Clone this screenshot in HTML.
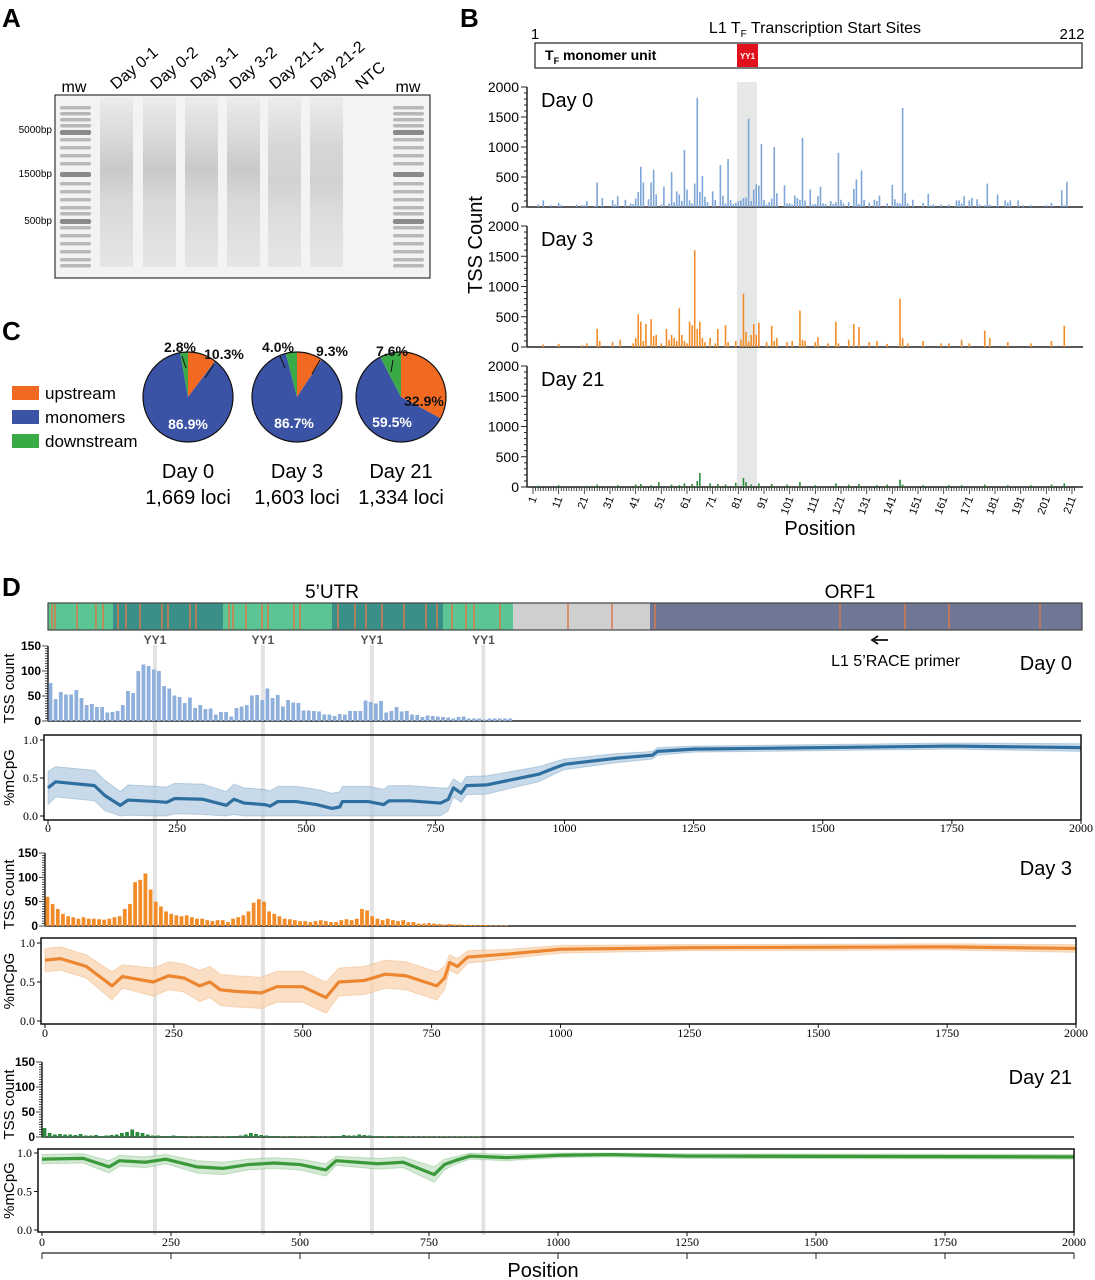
<!DOCTYPE html>
<html><head><meta charset="utf-8">
<style>
html,body{margin:0;padding:0;background:#fff;}
svg{display:block;font-family:"Liberation Sans",Arial,sans-serif;}
.serif{font-family:"Liberation Serif",serif;}
</style></head>
<body>
<svg id="fig" width="1095" height="1280" viewBox="0 0 1095 1280" xmlns="http://www.w3.org/2000/svg">
<defs>
<linearGradient id="smear" x1="0" y1="0" x2="0" y2="1">
<stop offset="0" stop-color="#ececec"/><stop offset="0.2" stop-color="#dcdcdc"/><stop offset="0.42" stop-color="#c9c9c9"/><stop offset="0.6" stop-color="#d8d8d8"/><stop offset="1" stop-color="#e6e6e6"/>
</linearGradient>
<linearGradient id="smear2" x1="0" y1="0" x2="0" y2="1">
<stop offset="0" stop-color="#ececec"/><stop offset="0.3" stop-color="#d6d6d6"/><stop offset="0.5" stop-color="#d2d2d2"/><stop offset="0.7" stop-color="#dddddd"/><stop offset="1" stop-color="#e6e6e6"/>
</linearGradient>
</defs>
<g id="panelA"></g>
<g id="panelB"></g>
<g id="panelC"></g>
<g id="panelD"></g>
</svg>
<script>
// ---------- Panel B data ----------
const bPositions = [1,11,21,31,41,51,61,71,81,91,101,111,121,131,141,151,161,171,181,191,201,211];
const day0Pos = [3,5,8,11,12,18,20,21,22,25,26,28,32,33,34,37,39,40,41,42,43,44,46,47,48,49,51,52,54,55,56,57,58,59,60,61,62,63,64,65,66,67,68,69,71,72,74,75,76,77,78,79,80,81,82,83,84,85,86,87,88,89,90,91,92,93,94,95,96,99,100,101,102,103,104,105,106,107,109,110,111,112,113,114,115,117,118,119,120,121,122,124,126,127,128,129,130,132,134,135,136,139,141,142,143,144,145,146,147,149,153,155,156,157,160,163,166,167,168,169,171,172,174,175,177,178,179,182,185,186,187,190,192,195,201,203,207,208,209];
const day0Val = [40,110,30,70,30,40,30,30,100,20,410,150,120,40,180,120,60,50,140,250,670,410,130,410,620,210,40,340,60,580,80,260,210,100,950,290,110,60,390,1820,250,520,170,80,260,120,700,190,60,800,120,50,70,100,110,150,160,1470,100,290,380,360,1050,120,40,80,140,1000,230,360,60,60,40,190,150,120,1150,110,290,40,50,180,340,60,50,100,50,80,900,120,60,80,300,460,50,610,120,70,120,100,190,60,370,130,70,60,1650,230,60,120,70,220,30,40,40,40,110,110,60,180,110,150,130,40,30,390,40,210,110,70,110,110,30,30,30,70,280,30,420,60];
const day3Pos = [5,11,20,22,26,27,32,35,40,41,42,43,44,45,47,48,49,51,53,54,55,56,57,58,59,60,61,62,63,64,65,66,67,68,70,72,73,76,77,80,82,83,84,85,86,87,88,89,92,94,95,96,100,102,105,106,107,111,112,116,119,120,124,126,128,132,135,139,144,145,147,153,160,163,168,171,177,179,186,195,203,208];
const day3Val = [40,50,30,60,300,100,80,120,60,150,540,420,100,380,460,180,200,60,300,120,200,150,100,640,200,100,60,420,360,1600,300,420,150,80,150,60,300,360,80,100,120,880,250,90,200,380,200,400,80,350,100,150,80,100,600,120,100,80,160,60,420,60,120,380,330,80,100,50,800,150,60,100,60,60,120,60,270,150,80,60,100,350];
const day21Pos = [3,11,22,26,34,41,43,47,50,55,58,60,63,65,66,70,73,76,80,83,84,86,89,94,100,105,111,119,124,128,135,139,144,145,153,163,168,177,186,195,203,208];
const day21Val = [20,30,20,40,30,40,50,30,80,40,30,60,50,100,230,60,50,40,70,150,80,40,60,50,40,80,30,60,40,50,30,40,120,40,30,30,30,40,30,30,40,60];

// ---------- Panel C data ----------
const pieLabels = ["Day 0","Day 3","Day 21"];
const pieLoci = ["1,669 loci","1,603 loci","1,334 loci"];
const pieUpstream = [10.3, 9.3, 32.9];
const pieMonomers = [86.9, 86.7, 59.5];
const pieDownstream = [2.8, 4.0, 7.6];

// ---------- Panel D data ----------
const dTicks = [0,250,500,750,1000,1250,1500,1750,2000];
const yy1Pos = [207, 416, 627, 843];
const tss0 = [76,44,58,53,53,62,46,32,34,28,28,17,18,20,32,60,56,100,113,110,103,100,70,65,51,48,36,47,26,32,24,25,13,18,18,9,26,29,32,51,52,42,65,46,52,29,42,37,36,21,21,20,19,13,13,10,14,13,20,20,20,41,38,35,40,17,20,28,19,20,13,12,8,11,10,9,8,7,5,8,9,5,5,5,3,5,5,5,5,5];
const tss3 = [60,45,35,25,20,18,15,18,15,15,14,13,15,18,20,35,45,90,95,108,75,50,40,30,25,22,20,22,18,15,15,12,10,12,12,8,15,18,22,30,48,55,50,30,25,20,15,14,12,10,10,8,10,12,10,8,8,12,14,12,15,35,32,20,15,12,15,12,10,12,8,8,5,5,6,5,4,3,4,3,3,2,2,2,2,2,1,1,1,1];
const tss21 = [18,8,5,6,5,5,4,6,3,3,4,2,3,4,5,8,10,15,10,8,5,3,3,2,2,3,2,2,1,1,2,1,1,2,1,1,2,2,3,5,8,6,4,3,2,2,1,1,2,1,1,1,2,1,1,1,2,2,4,3,3,5,4,3,2,2,1,2,1,2,1,1,1,1,1,1,1,1,1,1,1,1,1,1,1,0,0,0,0,0];
const m0Pos = [0,15,90,110,140,155,210,230,245,300,345,360,380,420,430,445,480,520,550,565,570,620,650,660,700,760,775,785,800,810,850,950,980,1000,1100,1170,1180,1250,1500,1750,2000];
const m0Val = [0.37,0.45,0.40,0.27,0.14,0.21,0.19,0.18,0.23,0.22,0.14,0.22,0.17,0.15,0.13,0.19,0.19,0.15,0.10,0.12,0.19,0.19,0.15,0.20,0.20,0.17,0.22,0.37,0.30,0.40,0.41,0.55,0.63,0.68,0.76,0.80,0.85,0.88,0.90,0.92,0.90];
const m0Err = [0.22,0.2,0.2,0.2,0.18,0.2,0.2,0.2,0.2,0.2,0.18,0.2,0.2,0.2,0.2,0.2,0.2,0.2,0.2,0.2,0.2,0.2,0.2,0.2,0.2,0.2,0.15,0.12,0.12,0.12,0.12,0.1,0.08,0.07,0.06,0.05,0.05,0.04,0.04,0.04,0.05];
const m3Pos = [0,30,80,130,150,210,240,270,300,320,340,370,420,450,500,545,570,620,660,700,760,775,785,800,820,900,1000,1250,1750,2000];
const m3Val = [0.78,0.80,0.70,0.45,0.57,0.50,0.58,0.55,0.45,0.50,0.40,0.38,0.36,0.44,0.44,0.30,0.50,0.52,0.60,0.58,0.45,0.55,0.75,0.70,0.82,0.86,0.92,0.94,0.95,0.93];
const m3Err = [0.15,0.15,0.15,0.18,0.15,0.18,0.18,0.18,0.2,0.2,0.2,0.2,0.2,0.2,0.2,0.2,0.18,0.18,0.18,0.18,0.18,0.15,0.1,0.1,0.08,0.06,0.05,0.04,0.04,0.05];
const m21Pos = [0,80,130,150,200,240,300,350,400,450,500,550,570,650,700,760,780,800,830,900,1000,1100,1250,2000];
const m21Val = [0.92,0.93,0.82,0.90,0.88,0.92,0.82,0.80,0.85,0.87,0.85,0.78,0.90,0.86,0.88,0.72,0.85,0.90,0.96,0.94,0.97,0.98,0.96,0.95];
const m21Err = [0.06,0.06,0.08,0.07,0.07,0.06,0.08,0.08,0.07,0.07,0.07,0.08,0.06,0.07,0.07,0.1,0.07,0.05,0.04,0.04,0.03,0.03,0.03,0.03];

const NS='http://www.w3.org/2000/svg';
function mk(parent, tag, attrs, text){
  const e=document.createElementNS(NS,tag);
  for(const k in attrs) e.setAttribute(k,attrs[k]);
  if(text!==undefined) e.textContent=text;
  parent.appendChild(e); return e;
}

// ================= Panel A =================
(function(){
  const g=document.getElementById('panelA');
  let t=mk(g,'text',{x:2,y:27,'font-size':26,'font-weight':'bold'},'A');
  
  
  let r=mk(g,'rect',{x:55,y:95,width:375,height:183,fill:'#f3f3f3',stroke:'#333','stroke-width':1.2});
  
  
  const lanes=[100,143,185,227,268,310];
  lanes.forEach((lx,i)=>{
    const l=mk(g,'rect',{x:lx,y:97,width:33,height:170,fill:i>=4?'url(#smear2)':'url(#smear)'});
    
    
  });
  const ladderY=[108,114,120,126,132,140,148,156,164,174,184,192,200,208,214,221,228,236,244,252,260,266];
  [60,393].forEach(mx=>{
    ladderY.forEach((y,j)=>{
      const dark=(y===132||y===174||y===221);
      const b=mk(g,'rect',{x:mx,y:y-2,width:31,height:dark?5:3.5,rx:2,fill:dark?'#8a8a8a':'#b8b8b8'});
      
      
    });
  });
  [['5000bp',133],['1500bp',177],['500bp',224]].forEach(a=>{
    const s=mk(g,'text',{x:52,y:a[1],'font-size':10,'text-anchor':'end'},a[0]);
    
    
  });
  [['mw',74],['mw',408]].forEach(a=>{
    const s=mk(g,'text',{x:a[1],y:92,'font-size':16,'text-anchor':'middle'},a[0]);
    
    
  });
  const ll=[['Day 0-1',116],['Day 0-2',156],['Day 3-1',196],['Day 3-2',235],['Day 21-1',275],['Day 21-2',316],['NTC',361]];
  ll.forEach(a=>{
    const s=mk(g,'text',{x:a[1],y:90,'font-size':16,transform:`rotate(-40 ${a[1]} 90)`},a[0]);
    
    
  });
})();

// ================= Panel B =================
(function(){
  const g=document.getElementById('panelB');
  let t=mk(g,'text',{x:460,y:27,'font-size':26,'font-weight':'bold'},'B');
  
  
  t=mk(g,'text',{x:815,y:33,'font-size':16,'text-anchor':'middle'},'');
  t.innerHTML='L1 T<tspan font-size="10" dy="4">F</tspan><tspan dy="-4"> Transcription Start Sites</tspan>';
  
  
  t=mk(g,'text',{x:535,y:39,'font-size':15,'text-anchor':'middle'},'1');
  
  
  t=mk(g,'text',{x:1072,y:39,'font-size':15,'text-anchor':'middle'},'212');
  
  
  let r=mk(g,'rect',{x:535,y:43,width:547,height:25,fill:'#fff',stroke:'#222','stroke-width':1.2});
  
  
  r=mk(g,'rect',{x:737,y:44,width:21,height:23,fill:'#e0101c'});
  
  
  t=mk(g,'text',{x:747.5,y:59,'font-size':8,'font-weight':'bold',fill:'#fff','text-anchor':'middle'},'YY1');
  
  
  t=mk(g,'text',{x:545,y:60,'font-size':14,'font-weight':'bold'},'');
  t.innerHTML='T<tspan font-size="9" dy="4">F</tspan><tspan dy="-4"> monomer unit</tspan>';
  
  
  const bx0=533, bx1=1072;
  const xs=p=>bx0+(p-1)*(bx1-bx0)/210;
  r=mk(g,'rect',{x:737,y:82,width:20,height:408,fill:'#e6e8e8'});
  
  
  const panels=[{pos:day0Pos,val:day0Val,base:207,top:87,col:'#7ea6d8',lab:'Day 0'},
    {pos:day3Pos,val:day3Val,base:347,top:226,col:'#f28c28',lab:'Day 3'},
    {pos:day21Pos,val:day21Val,base:487,top:366,col:'#2c8a3c',lab:'Day 21'}];
  panels.forEach(P=>{
    const ys=v=>P.base-v*(P.base-P.top)/2000;
    let a=mk(g,'line',{x1:527,y1:P.top,x2:527,y2:P.base,stroke:'#222','stroke-width':1.5});
    
    
    for(let v=0;v<=2000;v+=100){
      const m=mk(g,'line',{x1:v%500===0?521:524,y1:ys(v),x2:527,y2:ys(v),stroke:'#222','stroke-width':1});
      
      
    }
    [0,500,1000,1500,2000].forEach(v=>{
      const s=mk(g,'text',{x:519,y:ys(v)+5,'font-size':14,'text-anchor':'end'},String(v));
      
      
    });
    a=mk(g,'line',{x1:527,y1:P.base,x2:1083,y2:P.base,stroke:'#222','stroke-width':1.5});
    
    
    P.pos.forEach((p,i)=>{
      const b=mk(g,'rect',{x:xs(p)-0.8,y:ys(P.val[i]),width:1.6,height:P.base-ys(P.val[i]),fill:P.col});
      
      
    });
    const s=mk(g,'text',{x:541,y:P.top+20,'font-size':20},P.lab);
    
    
  });
  for(let p=1;p<=212;p++){
    const m=mk(g,'line',{x1:xs(p),y1:487,x2:xs(p),y2:(p-1)%10===0?494:491,stroke:'#222','stroke-width':0.8});
    
    
  }
  bPositions.forEach(p=>{
    const x=xs(p)+4;
    const s=mk(g,'text',{x:x,y:498,'font-size':11,'text-anchor':'end',transform:`rotate(-70 ${x} 498)`},String(p));
    
    
  });
  t=mk(g,'text',{x:820,y:535,'font-size':20,'text-anchor':'middle'},'Position');
  
  
  t=mk(g,'text',{x:482,y:245,'font-size':20,'text-anchor':'middle',transform:'rotate(-90 482 245)'},'TSS Count');
  
  
})();

// ================= Panel C =================
(function(){
  const g=document.getElementById('panelC');
  let t=mk(g,'text',{x:2,y:340,'font-size':26,'font-weight':'bold'},'C');
  
  
  const cols=['#f26a21','#3a53a4','#3aaa47'];
  const names=['upstream','monomers','downstream'];
  names.forEach((n,i)=>{
    const sq=mk(g,'rect',{x:12,y:386+i*24,width:27,height:14,fill:cols[i]});
    
    
    const s=mk(g,'text',{x:45,y:399+i*24,'font-size':17},n);
    
    
  });
  const cx=[188,297,401], cy=397, R=45;
  const pt=(c,f,rr)=>[c+rr*Math.sin(f*2*Math.PI), cy-rr*Math.cos(f*2*Math.PI)];
  const labelPos=[
    [[180,352,'2.8%'],[224,359,'10.3%'],[188,429,'86.9%','#fff']],
    [[278,352,'4.0%'],[332,356,'9.3%'],[294,428,'86.7%','#fff']],
    [[392,356,'7.6%'],[424,406,'32.9%','#111'],[392,427,'59.5%','#fff']]];
  cx.forEach((c,i)=>{
    const vals=[pieUpstream[i],pieMonomers[i],pieDownstream[i]];
    let start=0;
    vals.forEach((v,k)=>{
      const f0=start/100, f1=(start+v)/100;
      const [x0,y0]=pt(c,f0,R), [x1,y1]=pt(c,f1,R);
      const large=(f1-f0)>0.5?1:0;
      const p=mk(g,'path',{d:`M${c},${cy} L${x0},${y0} A${R},${R} 0 ${large} 1 ${x1},${y1} Z`,fill:cols[k]});
      
      
      start+=v;
    });
    const o=mk(g,'circle',{cx:c,cy:cy,r:R,fill:'none',stroke:'#111','stroke-width':1.2});
    
    
    labelPos[i].forEach(L=>{
      const s=mk(g,'text',{x:L[0],y:L[1],'font-size':14,'font-weight':'bold','text-anchor':'middle',fill:L[3]||'#111'},L[2]);
      
      
    });
    const s1=mk(g,'text',{x:c,y:478,'font-size':20,'text-anchor':'middle'},pieLabels[i]);
    
    
    const s2=mk(g,'text',{x:c,y:504,'font-size':20,'text-anchor':'middle'},pieLoci[i]);
    
    
  });
  [[182,356,186,368],[214,364,205,378],[280,356,285,368],[320,360,312,374],[393,360,391,372]].forEach(l=>{
    const ln=mk(g,'line',{x1:l[0],y1:l[1],x2:l[2],y2:l[3],stroke:'#111','stroke-width':1});
    
    
  });
})();

// ================= Panel D =================
(function(){
  const g=document.getElementById('panelD');
  let t=mk(g,'text',{x:2,y:596,'font-size':26,'font-weight':'bold'},'D');
  
  
  t=mk(g,'text',{x:332,y:598,'font-size':19,'text-anchor':'middle'},'5’UTR');
  
  
  t=mk(g,'text',{x:850,y:598,'font-size':19,'text-anchor':'middle'},'ORF1');
  
  
  const segs=[[48,113,'#5cc594'],[113,223,'#3a8f88'],[223,332,'#5cc594'],[332,443,'#3a8f88'],[443,513,'#5cc594'],[513,650,'#cfcfcf'],[650,1082,'#6e7896']];
  segs.forEach(s=>{
    const r=mk(g,'rect',{x:s[0],y:603,width:s[1]-s[0],height:27,fill:s[2]});
    
    
  });
  const stripes=[52,55,77,96,103,118,126,140,162,168,190,196,229,233,246,262,268,294,300,338,355,366,382,404,426,437,452,466,474,500,568,612,655,840,905,949,1040];
  stripes.forEach(x=>{
    const l=mk(g,'line',{x1:x,y1:604,x2:x,y2:629,stroke:'#d9784a','stroke-width':1.5});
    
    
  });
  let r=mk(g,'rect',{x:48,y:603,width:1034,height:27,fill:'none',stroke:'#444','stroke-width':1.2});
  
  
  t=mk(g,'text',{x:960,y:666,'font-size':16,'text-anchor':'end'},'L1 5’RACE primer');
  
  
  let a=mk(g,'path',{d:'M888,640 L874,640 M878,636 L872,640 L878,644',stroke:'#111','stroke-width':1.8,fill:'none'});
  
  

  const sx0=p=>48+p*(1081-48)/2000;
  yy1Pos.forEach(p=>{
    const l=mk(g,'rect',{x:sx0(p)-2,y:645,width:4,height:590,fill:'#e3e3e3'});
    
    
    const s=mk(g,'text',{x:sx0(p),y:644,'font-size':12,'font-weight':'bold',fill:'#555','text-anchor':'middle'},'YY1');
    
    
  });

  const days=[
    {tss:tss0,mp:m0Pos,mv:m0Val,me:m0Err,x0:48,x1:1081,tb:721,tt:646,mt:735,mb:820,m1:740,m0:816,ty:832,bar:'#8fb0dc',line:'#2f6fa0',band:'#b6cde3',lab:'Day 0',ly:670},
    {tss:tss3,mp:m3Pos,mv:m3Val,me:m3Err,x0:45,x1:1076,tb:926,tt:853,mt:938,mb:1024,m1:943,m0:1021,ty:1037,bar:'#f28c28',line:'#ec8630',band:'#f8d4b2',lab:'Day 3',ly:875},
    {tss:tss21,mp:m21Pos,mv:m21Val,me:m21Err,x0:42,x1:1074,tb:1137,tt:1062,mt:1149,mb:1232,m1:1153,m0:1230,ty:1246,bar:'#2c8a3c',line:'#3a9a3a',band:'#c4e2c4',lab:'Day 21',ly:1084}];
  days.forEach(D=>{
    const xs=p=>D.x0+p*(D.x1-D.x0)/2000;
    const ys=v=>D.tb-v*(D.tb-D.tt)/150;
    const ym=v=>D.m0-v*(D.m0-D.m1);
    let l=mk(g,'line',{x1:D.x0,y1:D.tt,x2:D.x0,y2:D.tb,stroke:'#222','stroke-width':1.5});
    
    
    for(let v=0;v<=150;v+=5){
      const m=mk(g,'line',{x1:D.x0-(v%50===0?6:3),y1:ys(v),x2:D.x0,y2:ys(v),stroke:'#222','stroke-width':0.8});
      
      
    }
    [0,50,100,150].forEach(v=>{
      const s=mk(g,'text',{x:D.x0-7,y:ys(v)+4,'font-size':12,'font-weight':'bold','text-anchor':'end'},String(v));
      
      
    });
    l=mk(g,'line',{x1:D.x0,y1:D.tb,x2:D.x1,y2:D.tb,stroke:'#222','stroke-width':1.5});
    
    
    const bw=10*(D.x1-D.x0)/2000;
    D.tss.forEach((v,i)=>{
      if(v<=0) return;
      const b=mk(g,'rect',{x:xs(i*10)+0.6,y:ys(v),width:bw-1.4,height:D.tb-ys(v),fill:D.bar});
      
      
    });
    let s=mk(g,'text',{x:9,y:(D.tt+D.tb)/2,'font-size':15,'text-anchor':'middle',transform:`rotate(-90 14 ${(D.tt+D.tb)/2})`},'TSS count');
    
    
    s=mk(g,'text',{x:1072,y:D.ly,'font-size':20,'text-anchor':'end'},D.lab);
    
    
    let up='', lo='';
    D.mp.forEach((p,i)=>{ up+=(i?'L':'M')+xs(p)+','+ym(Math.min(1,D.mv[i]+D.me[i]))+' '; });
    for(let i=D.mp.length-1;i>=0;i--){ lo+='L'+xs(D.mp[i])+','+ym(Math.max(0,D.mv[i]-D.me[i]))+' '; }
    const band=mk(g,'path',{d:up+lo+'Z',fill:D.band,'fill-opacity':0.75,stroke:D.line,'stroke-opacity':0.25,'stroke-width':1});
    
    
    let d='';
    D.mp.forEach((p,i)=>{ d+=(i?'L':'M')+xs(p)+','+ym(D.mv[i])+' '; });
    const ln=mk(g,'path',{d:d,fill:'none',stroke:D.line,'stroke-width':3.2,'stroke-linejoin':'round'});
    
    
    const box=mk(g,'rect',{x:D.x0-4,y:D.mt,width:D.x1-D.x0+4,height:D.mb-D.mt,fill:'none',stroke:'#111','stroke-width':1.5});
    
    
    [[0,'0.0'],[0.5,'0.5'],[1,'1.0']].forEach(v=>{
      const m=mk(g,'line',{x1:D.x0-8,y1:ym(v[0]),x2:D.x0-4,y2:ym(v[0]),stroke:'#111','stroke-width':1});
      
      
      const q=mk(g,'text',{x:D.x0-10,y:ym(v[0])+4,'font-size':12,'text-anchor':'end','class':'serif'},v[1]);
      
      
    });
    s=mk(g,'text',{x:14,y:(D.mt+D.mb)/2,'font-size':15,'text-anchor':'middle',transform:`rotate(-90 14 ${(D.mt+D.mb)/2})`},'%mCpG');
    
    
    dTicks.forEach(v=>{
      const m=mk(g,'line',{x1:xs(v),y1:D.mb,x2:xs(v),y2:D.mb+4,stroke:'#111','stroke-width':1});
      
      
      const q=mk(g,'text',{x:xs(v),y:D.ty,'font-size':12,'text-anchor':'middle','class':'serif'},String(v));
      
      
    });
  });
  const xs21=p=>42+p*(1074-42)/2000;
  let b=mk(g,'line',{x1:42,y1:1253,x2:1074,y2:1253,stroke:'#222','stroke-width':1.2});
  
  
  for(let p=0;p<=2000;p+=250){
    const m=mk(g,'line',{x1:xs21(p),y1:1253,x2:xs21(p),y2:1259,stroke:'#222','stroke-width':1});
    
    
  }
  t=mk(g,'text',{x:543,y:1277,'font-size':20,'text-anchor':'middle'},'Position');
  
  
})();
</script>
</body></html>
